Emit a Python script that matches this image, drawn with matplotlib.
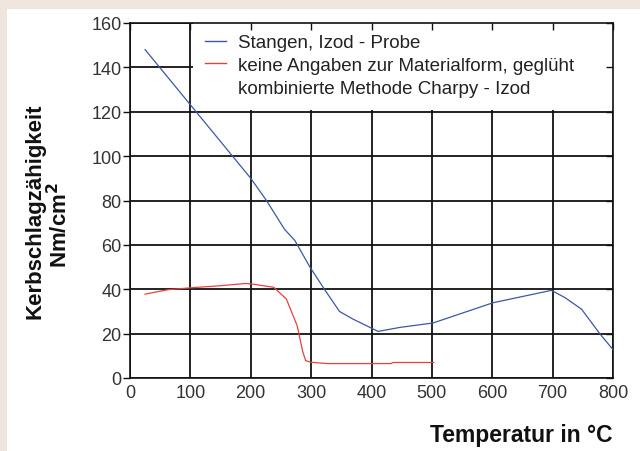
import matplotlib
matplotlib.use("Agg")
import matplotlib.pyplot as plt
from matplotlib.patches import Rectangle
from matplotlib.lines import Line2D

# Kerbschlagzähigkeit vs Temperatur
blue_T = [25, 200, 226, 256, 273, 298, 322, 347, 369, 411, 447, 502, 601, 698, 720, 748, 778, 800]
blue_K = [148, 90, 80, 67, 62, 50, 40, 30, 26.6, 21, 22.8, 24.8, 33.9, 39.5, 36.3, 31, 20, 12.8]

red_T = [25, 63, 103, 150, 191, 201, 238, 259, 277, 286, 291, 300, 327, 432, 436, 503]
red_K = [37.8, 39.8, 40.7, 41.6, 42.6, 42.4, 40.9, 35.6, 23.5, 12, 7.8, 7.1, 6.5, 6.5, 7.0, 7.0]

xticks = [0, 100, 200, 300, 400, 500, 600, 700, 800]
yticks = [0, 20, 40, 60, 80, 100, 120, 140, 160]

labels = ['Stangen, Izod - Probe',
          'keine Angaben zur Materialform, geglüht',
          'kombinierte Methode Charpy - Izod']

blue = '#3d57a8'
red = '#e8413c'
fam = ['Liberation Sans', 'DejaVu Sans']

fig = plt.figure(figsize=(6.4, 4.52), dpi=100)
# beige frame strip at top and left
fig.patches.append(Rectangle((0, 0), 1, 1, transform=fig.transFigure,
                             facecolor='#efe5dc', edgecolor='none', zorder=-10))
fig.patches.append(Rectangle((7 / 640, 0), 1, 1 - 10 / 452, transform=fig.transFigure,
                             facecolor='white', edgecolor='none', zorder=-9))

ax = fig.add_axes([130 / 640, 1 - 379 / 452, 483 / 640, 355 / 452])
ax.set_facecolor('none')

# grid drawn as lines so the legend box can hide it
ax.vlines(xticks, 0, 160, color='#111111', lw=1.3, zorder=1)
ax.hlines(yticks, 0, 800, color='#111111', lw=1.3, zorder=1)

ax.plot(blue_T, blue_K, color=blue, lw=0.9, zorder=3)
ax.plot(red_T, red_K, color=red, lw=0.9, zorder=3)

ax.set_xlim(0, 800)
ax.set_ylim(0, 160)
ax.set_xticks(xticks)
ax.set_yticks(yticks)

for s in ax.spines.values():
    s.set_color('#111111')
    s.set_linewidth(1.2)

ax.set_xticklabels([str(t) for t in xticks], color='#333333', family=fam, size=13)
ax.set_yticklabels([str(t) for t in yticks], color='#333333', family=fam, size=13)
ax.tick_params(axis='y', left=True, right=True, direction='out', length=5, width=1.0,
               color='#111111', pad=1)
ax.tick_params(axis='x', top=True, bottom=True, direction='in', length=5, width=1.0,
               color='#111111', pad=4)
for t in ax.yaxis.get_major_ticks():
    t.tick2line.set_marker(0)  # right ticks point inward
for t in ax.xaxis.get_major_ticks():
    t.tick1line.set_visible(False)

# white box behind legend hides the grid there (below the axis ticks)
ax.add_patch(Rectangle((0.13, 0.756), 0.87, 0.244, transform=ax.transAxes,
                       facecolor='white', edgecolor='none', zorder=1.2))

handles = [Line2D([], [], color=blue, lw=1.0),
           Line2D([], [], color=red, lw=1.0),
           Line2D([], [], color='none', lw=1.0)]
leg = ax.legend(handles, labels, loc='upper left', bbox_to_anchor=(0.14, 0.99),
                frameon=False, handlelength=1.1, handletextpad=0.65,
                labelspacing=0.3, borderaxespad=0,
                prop=dict(family=fam, size=13.5))
for t in leg.get_texts():
    t.set_color('#222222')
leg.set_zorder(4)

fig.text(35 / 640, 1 - 211 / 452, 'Kerbschlagzähigkeit', rotation=90, ha='center',
         va='center', fontsize=16, fontweight='bold', family=fam, color='#111111')
fig.text(60 / 640, 1 - 225 / 452, 'Nm/cm$^\\mathbf{2}$', rotation=90, ha='center',
         va='center', fontsize=16, fontweight='bold', family=fam, color='#111111')
fig.text(612 / 640, 1 - 436 / 452, 'Temperatur in °C', ha='right', va='center',
         fontsize=16.5, fontweight='bold', family=fam, color='#111111')

fig.savefig('out.png', dpi=100)
